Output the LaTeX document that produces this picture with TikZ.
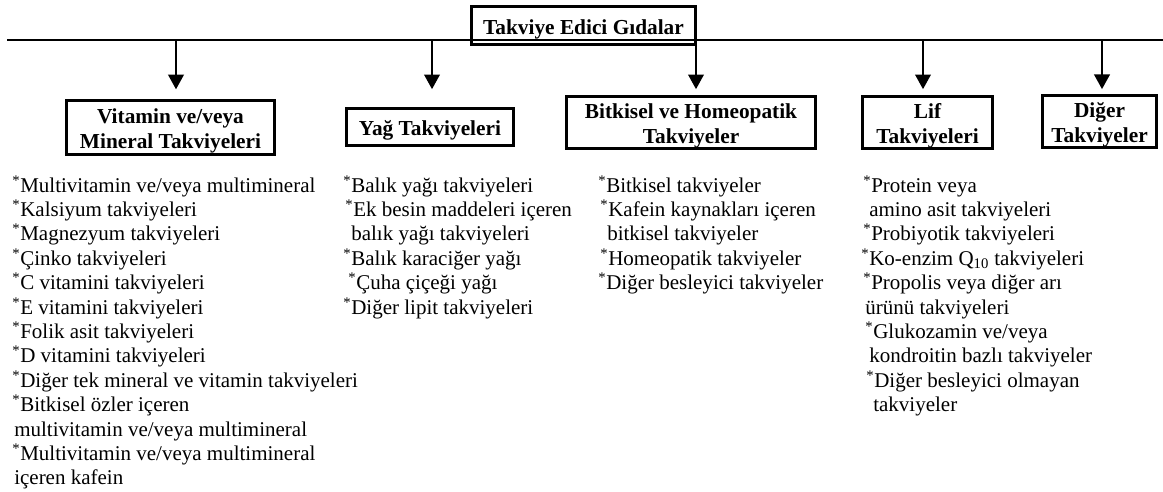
\documentclass[tikz,border=0pt]{standalone}
\usepackage{fontspec}
\setmainfont{Liberation Serif}
\usetikzlibrary{arrows.meta}
\newcommand\astx{\textsuperscript{*}}
\begin{document}
\begin{tikzpicture}[x=0.75pt,y=-0.75pt,
  box/.style={draw, line width=2.5pt, inner sep=0pt},
  boxtext/.style={inner sep=0pt, align=center, yshift=-2.7pt,
    font=\fontsize{16}{18.5}\selectfont\bfseries},
  item/.style={anchor=base west, inner sep=0pt, font=\fontsize{15.75}{18}\selectfont},
  hline/.style={line width=1.7pt},
  arr/.style={line width=2pt, -{Triangle[width=11.5pt,length=11pt]}}]
\useasboundingbox (0,0) rectangle (1163,492);

% main horizontal line
\coordinate (L) at (7,40);
\coordinate (R) at (1163,40);
\draw[hline] (L) -- (R);

% top box
\node[box, minimum width=168pt, minimum height=28.5pt,
  label={[boxtext]center:{Takviye Edici Gıdalar}}] (top) at (583.5,25.5) {};

% category boxes
\node[box, minimum width=156pt, minimum height=40.5pt,
  label={[boxtext]center:{Vitamin ve/veya\\Mineral Takviyeleri}}] (vit) at (170.5,127.5) {};
\node[box, minimum width=125.25pt, minimum height=27.75pt,
  label={[boxtext]center:{Yağ Takviyeleri}}] (yag) at (430,127) {};
\node[box, minimum width=186.75pt, minimum height=39pt,
  label={[boxtext]center:{Bitkisel ve Homeopatik\\Takviyeler}}] (bit) at (691,122.5) {};
\node[box, minimum width=97.5pt, minimum height=39pt,
  label={[boxtext]center:{Lif\\Takviyeleri}}] (lif) at (927.5,122.5) {};
\node[box, minimum width=85.5pt, minimum height=39pt,
  label={[boxtext]center:{Diğer\\Takviyeler}}] (dig) at (1099.5,121.5) {};

% junctions on the line
\coordinate (j1) at (176,40);
\coordinate (j2) at (432,40);
\coordinate (j3) at (696,40);
\coordinate (j4) at (923,40);
\coordinate (j5) at (1102,40);

\draw[arr, shorten >=7.1pt] (j1) -- (j1 |- vit.north);
\draw[arr, shorten >=13.2pt] (j2) -- (j2 |- yag.north);
\draw[arr, shorten >=4.2pt] (j3) -- (j3 |- bit.north);
\draw[arr, shorten >=4.2pt] (j4) -- (j4 |- lif.north);
\draw[arr, shorten >=3.5pt] (j5) -- (j5 |- dig.north);

% lists
\foreach \dx/\t [count=\i] in {
  12/{\astx Multivitamin ve/veya multimineral},
  12/{\astx Kalsiyum takviyeleri},
  12/{\astx Magnezyum takviyeleri},
  12/{\astx Çinko takviyeleri},
  12/{\astx C vitamini takviyeleri},
  12/{\astx E vitamini takviyeleri},
  12/{\astx Folik asit takviyeleri},
  12/{\astx D vitamini takviyeleri},
  12/{\astx Diğer tek mineral ve vitamin takviyeleri},
  12/{\astx Bitkisel özler içeren},
  14/{multivitamin ve/veya multimineral},
  12/{\astx Multivitamin ve/veya multimineral},
  14/{içeren kafein}}
  \node[item] (a\i) at (\dx,{192+24.4*(\i-1)}) {\t};

\foreach \dx/\t [count=\i] in {
  343/{\astx Balık yağı takviyeleri},
  345/{\astx Ek besin maddeleri içeren},
  351/{balık yağı takviyeleri},
  343/{\astx Balık karaciğer yağı},
  348/{\astx Çuha çiçeği yağı},
  343/{\astx Diğer lipit takviyeleri}}
  \node[item] (b\i) at (\dx,{192+24.4*(\i-1)}) {\t};

\foreach \dx/\t [count=\i] in {
  598/{\astx Bitkisel takviyeler},
  600/{\astx Kafein kaynakları içeren},
  607/{bitkisel takviyeler},
  600/{\astx Homeopatik takviyeler},
  598/{\astx Diğer besleyici takviyeler}}
  \node[item] (c\i) at (\dx,{192+24.4*(\i-1)}) {\t};

\foreach \dx/\t [count=\i] in {
  863/{\astx Protein veya},
  869/{amino asit takviyeleri},
  863/{\astx Probiyotik takviyeleri},
  861/{\astx Ko-enzim Q\textsubscript{10} takviyeleri},
  863/{\astx Propolis veya diğer arı},
  865/{ürünü takviyeleri},
  865/{\astx Glukozamin ve/veya},
  869/{kondroitin bazlı takviyeler},
  866/{\astx Diğer besleyici olmayan},
  873/{takviyeler}}
  \node[item] (d\i) at (\dx,{192+24.4*(\i-1)}) {\t};
\end{tikzpicture}
\end{document}
